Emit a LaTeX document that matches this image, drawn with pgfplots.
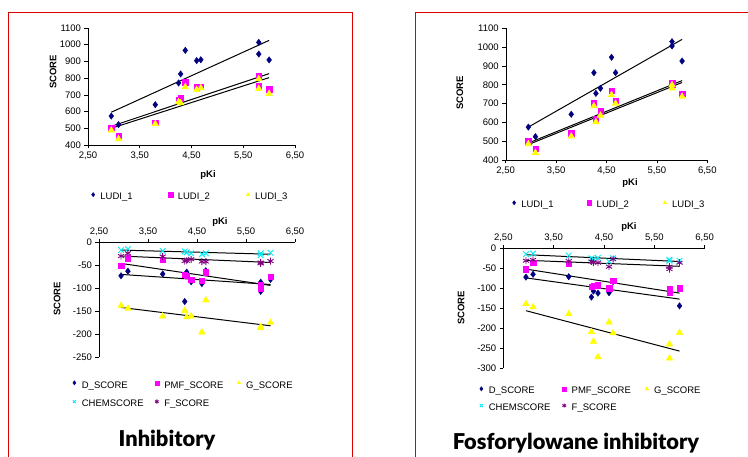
\documentclass[border=0pt]{standalone}
\usepackage{fontspec}
\setmainfont{Liberation Sans}
\newfontfamily\titlefont{Lato}[UprightFont=*-Black, BoldFont=*-Black]
\usepackage{pgfplots}
\pgfplotsset{compat=1.18}
\definecolor{xnavy}{RGB}{0,0,128}
\definecolor{xmag}{RGB}{255,0,255}
\definecolor{xyel}{RGB}{255,255,0}
\definecolor{xcyan}{RGB}{0,235,245}
\definecolor{xpurp}{RGB}{128,0,128}
\definecolor{xred}{RGB}{220,0,0}
\pgfplotsset{
 base/.style={scale only axis, xmin=2.5, xmax=6.5, xtick={2.5,3.5,4.5,5.5,6.5},
  axis line style={black,-}, tick align=outside, major tick length=3.5pt,
  tick style={black, line width=0.6pt}, clip=false,
  tick label style={font=\fontsize{9.5}{11}\selectfont},
  xticklabel style={/pgf/number format/.cd,fixed,fixed zerofill,precision=2,use comma},
  /pgf/number format/assume math mode=true, /pgf/number format/1000 sep={},
  scaled ticks=false, legend columns=3,
  legend style={draw=none, fill=none, inner sep=0pt, outer sep=0pt,
   font=\fontsize{9.5}{11}\selectfont, nodes={inner sep=0pt},
   /tikz/every odd column/.append style={column sep=4pt}},
  legend image code/.code={\path (0pt,0pt) (6pt,0pt); \draw[##1,mark size=2.1pt] plot coordinates {(3pt,2.6pt)};},
 },
 sD/.style={only marks, mark=diamond*, mark size=3.2pt, color=xnavy},
 sP/.style={only marks, mark=square*, mark size=2.7pt, color=xmag},
 sG/.style={only marks, mark=triangle*, mark size=3.8pt, color=xyel},
 sC/.style={only marks, mark=x, mark size=4pt, color=xcyan, line width=0.9pt},
 sF/.style={only marks, mark=asterisk, mark size=3.5pt, color=xpurp, line width=0.9pt},
 tr/.style={black, line width=1pt, no marks, forget plot},
}
\begin{document}
\begin{tikzpicture}
\useasboundingbox (0,0) rectangle (748pt,457pt);
\draw[line width=1.3pt, xred] (8.3pt,-10pt) -- (8.3pt,444.5pt) -- (352.7pt,444.5pt) -- (352.7pt,-10pt);
\draw[line width=1.3pt, xred] (760pt,444.5pt) -- (415.7pt,444.5pt) -- (415.7pt,-10pt);

% ---------- top left
\begin{axis}[base, at={(88pt,312pt)}, anchor=south west, width=207pt, height=117pt,
 ymin=400, ymax=1100, ytick={400,500,...,1100}, axis x line*=bottom, axis y line*=left,
 legend style={at={(rel axis cs:0.0097,-0.444)}, anchor=west}]
\addplot[sD] coordinates {(2.95,573)(3.09,522)(3.80,641)(4.25,771)(4.29,825)(4.38,966)(4.60,905)(4.68,910)(5.80,1014)(5.80,944)(6.00,909)};
\addlegendentry{\makebox[67pt][l]{LUDI\_1}}
\addplot[sP] coordinates {(2.95,504)(3.09,456)(3.80,534)(4.25,671)(4.29,679)(4.38,775)(4.60,745)(4.68,747)(5.80,815)(5.80,751)(6.00,735)};
\addlegendentry{\makebox[67pt][l]{LUDI\_2}}
\addplot[sG] coordinates {(2.95,488)(3.09,436)(3.80,526)(4.25,657)(4.29,651)(4.38,747)(4.60,731)(4.68,741)(5.80,795)(5.80,737)(6.00,707)};
\addlegendentry{\makebox[67pt][l]{LUDI\_3}}
\addplot[tr] coordinates {(2.95,596)(6.00,1026)};
\addplot[tr] coordinates {(2.95,512)(6.00,827)};
\addplot[tr] coordinates {(2.95,500)(6.00,803)};
\node[font=\bfseries\fontsize{9.5}{11}\selectfont] at (rel axis cs:0.58,-0.256) {pKi};
\node[font=\bfseries\fontsize{9.5}{11}\selectfont, rotate=90] at (rel axis cs:-0.169,0.624) {SCORE};
\end{axis}

% ---------- top right
\begin{axis}[base, at={(505.7pt,297pt)}, anchor=south west, width=201.6pt, height=131.7pt,
 ymin=400, ymax=1100, ytick={400,500,...,1100}, axis x line*=bottom, axis y line*=left,
 legend style={at={(rel axis cs:0.026,-0.342)}, anchor=west}]
\addplot[sD] coordinates {(2.95,575)(3.09,524)(3.80,643)(4.25,864)(4.29,754)(4.38,781)(4.60,946)(4.68,864)(5.80,1029)(5.80,1006)(6.00,926)};
\addlegendentry{\makebox[65pt][l]{LUDI\_1}}
\addplot[sP] coordinates {(2.95,499)(3.09,460)(3.80,542)(4.25,701)(4.29,616)(4.38,660)(4.60,767)(4.68,715)(5.80,809)(5.80,799)(6.00,751)};
\addlegendentry{\makebox[65pt][l]{LUDI\_2}}
\addplot[sG] coordinates {(2.95,485)(3.09,439)(3.80,526)(4.25,687)(4.29,602)(4.38,637)(4.60,746)(4.68,700)(5.80,799)(5.80,781)(6.00,737)};
\addlegendentry{\makebox[65pt][l]{LUDI\_3}}
\addplot[tr] coordinates {(2.95,575)(6.00,1041)};
\addplot[tr] coordinates {(2.95,490)(6.00,822)};
\addplot[tr] coordinates {(2.95,482)(6.00,812)};
\node[font=\bfseries\fontsize{9.5}{11}\selectfont] at (rel axis cs:0.617,-0.175) {pKi};
\node[font=\bfseries\fontsize{9.5}{11}\selectfont, rotate=90] at (rel axis cs:-0.227,0.509) {SCORE};
\end{axis}

% ---------- bottom left
\begin{axis}[base, at={(99pt,100pt)}, anchor=south west, width=196pt, height=114.7pt,
 ymin=-250, ymax=0, ytick={-250,-200,...,0}, axis x line*=top, axis y line*=left,
 legend style={at={(rel axis cs:-0.143,-0.327)}, anchor=west, row sep=10pt}]
\addplot[sD] coordinates {(2.95,-73)(3.09,-63)(3.80,-69)(4.25,-129)(4.29,-65)(4.38,-86)(4.60,-90)(4.68,-62)(5.80,-87)(5.80,-107)(6.00,-81)};
\addlegendentry{\makebox[71.5pt][l]{D\_SCORE}}
\addplot[sP] coordinates {(2.95,-51)(3.09,-35)(3.80,-38)(4.25,-71)(4.29,-73)(4.38,-82)(4.60,-84)(4.68,-65)(5.80,-93)(5.80,-100)(6.00,-75)};
\addlegendentry{\makebox[71.5pt][l]{PMF\_SCORE}}
\addplot[sG] coordinates {(2.95,-138)(3.09,-144)(3.80,-161)(4.25,-149)(4.29,-163)(4.38,-161)(4.60,-196)(4.68,-126)(5.80,-187)(5.80,-184)(6.00,-175)};
\addlegendentry{\makebox[71.5pt][l]{G\_SCORE}}
\addplot[sC] coordinates {(2.95,-17)(3.09,-15)(3.80,-19)(4.25,-20)(4.29,-22)(4.38,-24)(4.60,-26)(4.68,-24)(5.80,-24)(5.80,-28)(6.00,-23)};
\addlegendentry{\makebox[71.5pt][l]{CHEMSCORE}}
\addplot[sF] coordinates {(2.95,-30)(3.09,-24)(3.80,-31)(4.25,-41)(4.29,-40)(4.38,-37)(4.60,-42)(4.68,-42)(5.80,-46)(5.80,-44)(6.00,-41)};
\addlegendentry{\makebox[71.5pt][l]{F\_SCORE}}
\addplot[tr] coordinates {(2.95,-17)(6.00,-26)};
\addplot[tr] coordinates {(2.95,-30)(6.00,-44)};
\addplot[tr] coordinates {(2.95,-46)(6.00,-94)};
\addplot[tr] coordinates {(2.95,-70)(6.00,-92)};
\addplot[tr] coordinates {(2.95,-142)(6.00,-182)};
\node[font=\bfseries\fontsize{9.5}{11}\selectfont] at (rel axis cs:0.617,1.177) {pKi};
\node[font=\bfseries\fontsize{9.5}{11}\selectfont, rotate=90] at (rel axis cs:-0.214,0.506) {SCORE};
\end{axis}

% ---------- bottom right
\begin{axis}[base, at={(503.3pt,88.7pt)}, anchor=south west, width=201.4pt, height=120pt,
 ymin=-300, ymax=0, ytick={-300,-250,...,0}, axis x line*=top, axis y line*=left,
 legend style={at={(rel axis cs:-0.126,-0.26)}, anchor=west, row sep=8pt}]
\addplot[sD] coordinates {(2.95,-72)(3.09,-65)(3.80,-71)(4.25,-122)(4.29,-107)(4.38,-112)(4.60,-111)(4.68,-83)(5.80,-105)(5.80,-108)(6.00,-144)};
\addlegendentry{\makebox[72pt][l]{D\_SCORE}}
\addplot[sP] coordinates {(2.95,-52)(3.09,-36)(3.80,-39)(4.25,-96)(4.29,-93)(4.38,-92)(4.60,-100)(4.68,-81)(5.80,-102)(5.80,-111)(6.00,-100)};
\addlegendentry{\makebox[72pt][l]{PMF\_SCORE}}
\addplot[sG] coordinates {(2.95,-139)(3.09,-147)(3.80,-164)(4.25,-209)(4.29,-233)(4.38,-272)(4.60,-185)(4.68,-212)(5.80,-240)(5.80,-275)(6.00,-211)};
\addlegendentry{\makebox[72pt][l]{G\_SCORE}}
\addplot[sC] coordinates {(2.95,-15)(3.09,-13)(3.80,-18)(4.25,-25)(4.29,-27)(4.38,-24)(4.60,-33)(4.68,-25)(5.80,-31)(5.80,-29)(6.00,-31)};
\addlegendentry{\makebox[72pt][l]{CHEMSCORE}}
\addplot[sF] coordinates {(2.95,-31)(3.09,-29)(3.80,-32)(4.25,-33)(4.29,-35)(4.38,-36)(4.60,-46)(4.68,-27)(5.80,-52)(5.80,-46)(6.00,-36)};
\addlegendentry{\makebox[72pt][l]{F\_SCORE}}
\addplot[tr] coordinates {(2.95,-16)(6.00,-33)};
\addplot[tr] coordinates {(2.95,-30)(6.00,-45)};
\addplot[tr] coordinates {(2.95,-52)(6.00,-112)};
\addplot[tr] coordinates {(2.95,-74)(6.00,-127)};
\addplot[tr] coordinates {(2.95,-156)(6.00,-257)};
\node[font=\bfseries\fontsize{9.5}{11}\selectfont] at (rel axis cs:0.624,1.178) {pKi};
\node[font=\bfseries\fontsize{9.5}{11}\selectfont, rotate=90] at (rel axis cs:-0.21,0.5025) {SCORE};
\end{axis}

\node[anchor=base, font=\titlefont\fontsize{21.8}{25}\selectfont] at (167pt,10.3pt) {Inhibitory};
\node[anchor=base, font=\titlefont\fontsize{21.8}{25}\selectfont] at (576pt,7pt) {Fosforylowane inhibitory};
\end{tikzpicture}
\end{document}
